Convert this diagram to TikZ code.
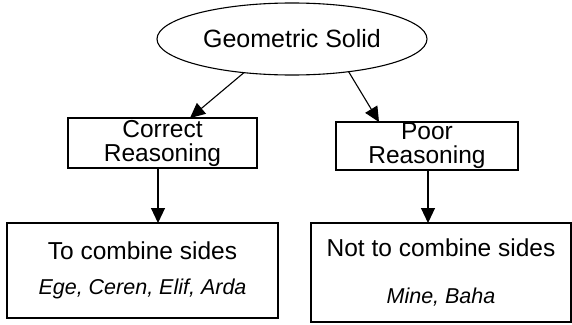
\documentclass[tikz,border=0pt]{standalone}
\usepackage{fontspec}
\setmainfont{Liberation Sans}
\usetikzlibrary{shapes.geometric,arrows.meta}
\begin{document}
\begin{tikzpicture}[x=1pt,y=-1pt,
  every node/.style={inner sep=0pt,outer sep=0pt},
  box/.style={draw,line width=1.1pt,rectangle,align=center,font=\fontsize{24.5}{24}\selectfont},
  arr/.style={line width=1.1pt,-{Triangle[length=15pt,width=14pt]}}]
\useasboundingbox (0,0) rectangle (572,324);
\node[draw,ellipse,line width=1.1pt,minimum width=270pt,minimum height=72pt,font=\fontsize{25}{24}\selectfont] (gs) at (292,39) {Geometric Solid};
\node[box,minimum width=189pt,minimum height=50pt] (cr) at (162.5,143) {Correct\\Reasoning};
\node[box,minimum width=182pt,minimum height=48pt] (pr) at (427,146) {Poor\\Reasoning};
\node[box,minimum width=271pt,minimum height=95pt] (lb) at (142.5,270.5) {To combine sides\\[11pt]{\fontsize{21.5}{24}\itshape Ege, Ceren, Elif, Arda}};
\node[box,minimum width=260pt,minimum height=99pt] (rb) at (441,272.5) {Not to combine sides\\[23pt]{\fontsize{21.5}{24}\itshape Mine, Baha}};
\draw[arr] (gs.215) -- ([xshift=27.5pt]cr.north);
\draw[arr] (gs.330) -- ([xshift=-48pt]pr.north);
\draw[arr] ([xshift=-4.5pt]cr.south) -- ([xshift=-4.5pt]cr.south |- lb.north);
\draw[arr] ([xshift=1pt]pr.south) -- ([xshift=1pt]pr.south |- rb.north);
\end{tikzpicture}
\end{document}
